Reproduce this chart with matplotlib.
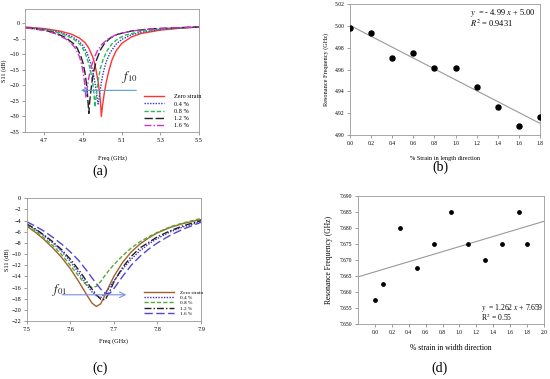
import matplotlib
matplotlib.use('Agg')
import matplotlib.pyplot as plt
import numpy as np

plt.rcParams['font.family'] = ['Liberation Serif', 'DejaVu Serif']
plt.rcParams['mathtext.fontset'] = 'stix'

# ---- (a) S11 vs freq, length strain ----
legend_a = ['Zero strain', '0.4 %', '0.8 %', '1.2 %', '1.6 %']
f_a0 = [4.60, 4.70, 4.78, 4.84, 4.88, 4.91, 4.93, 4.95, 4.96, 4.97, 4.98, 4.99, 4.995,
        5.00, 5.01, 5.02, 5.035, 5.05, 5.07, 5.10, 5.15, 5.20, 5.30, 5.40, 5.50]
s_a0 = [-1.2, -1.7, -2.5, -3.5, -4.7, -6.2, -8.0, -10.8, -12.8, -16.0, -19.5, -25.0, -30.0,
        -27.0, -22.5, -19.0, -15.0, -11.8, -9.0, -6.5, -4.4, -3.3, -2.2, -1.6, -1.2]
f_a1 = [4.60, 4.70, 4.78, 4.84, 4.88, 4.90, 4.92, 4.94, 4.95, 4.96, 4.97, 4.978, 4.985,
        4.995, 5.005, 5.02, 5.04, 5.07, 5.10, 5.15, 5.20, 5.30, 5.40, 5.50]
s_a1 = [-1.3, -1.9, -2.9, -4.2, -5.8, -7.2, -9.4, -13.0, -15.3, -18.5, -22.5, -26.0, -23.5,
        -19.0, -15.8, -12.4, -9.5, -6.8, -5.2, -3.7, -2.9, -2.0, -1.5, -1.2]
f_a2 = [4.60, 4.70, 4.78, 4.84, 4.87, 4.89, 4.91, 4.93, 4.94, 4.95, 4.957, 4.962, 4.968,
        4.978, 4.99, 5.005, 5.025, 5.05, 5.08, 5.12, 5.20, 5.30, 5.40, 5.50]
s_a2 = [-1.3, -2.0, -3.1, -4.7, -5.9, -7.2, -9.3, -13.0, -15.5, -19.0, -23.0, -27.0, -23.5,
        -18.5, -14.5, -11.5, -8.8, -6.6, -5.0, -3.8, -2.6, -1.9, -1.5, -1.2]
f_a3 = [4.60, 4.70, 4.76, 4.81, 4.85, 4.87, 4.89, 4.90, 4.91, 4.92, 4.925, 4.930, 4.935,
        4.945, 4.955, 4.97, 4.99, 5.01, 5.04, 5.08, 5.15, 5.25, 5.40, 5.50]
s_a3 = [-1.4, -2.2, -3.2, -4.6, -6.5, -8.0, -10.8, -12.8, -15.8, -20.5, -24.5, -29.0, -25.0,
        -19.5, -15.5, -11.8, -8.6, -6.6, -4.8, -3.5, -2.5, -1.8, -1.4, -1.2]
f_a4 = [4.60, 4.70, 4.76, 4.81, 4.84, 4.86, 4.88, 4.89, 4.90, 4.91, 4.915, 4.92, 4.93,
        4.94, 4.955, 4.975, 5.00, 5.03, 5.07, 5.15, 5.25, 5.40, 5.50]
s_a4 = [-1.4, -2.3, -3.4, -5.0, -6.5, -8.0, -10.5, -12.5, -15.5, -20.0, -24.0, -21.5, -17.5,
        -14.5, -11.5, -8.8, -6.6, -5.0, -3.7, -2.5, -1.8, -1.4, -1.2]

# ---- (b) resonance vs length strain ----
strain_b = [0.0, 0.2, 0.4, 0.6, 0.8, 1.0, 1.2, 1.4, 1.6, 1.8]
freq_b = [4.9977, 4.9934, 4.9708, 4.9754, 4.9617, 4.9617, 4.9440, 4.9257, 4.9080, 4.9168]

# ---- (c) S11 vs freq, width strain ----
f_c = [7.50, 7.52, 7.54, 7.56, 7.58, 7.60, 7.62, 7.63, 7.64, 7.65, 7.66, 7.67, 7.68, 7.69,
       7.70, 7.72, 7.74, 7.76, 7.78, 7.80, 7.83, 7.86, 7.90]
s_c0 = [-5.0, -6.1, -7.4, -8.9, -10.6, -12.6, -15.0, -16.3, -17.6, -18.8, -19.4, -18.9, -17.3,
        -15.6, -14.0, -11.5, -9.6, -8.2, -7.1, -6.2, -5.2, -4.5, -3.8]
s_c1 = [-4.6, -5.6, -6.7, -8.0, -9.5, -11.3, -13.4, -14.6, -15.8, -16.8, -17.5, -17.8, -17.0,
        -16.0, -14.8, -12.7, -10.9, -9.4, -8.2, -7.2, -6.0, -5.1, -4.2]
s_c2 = [-4.8, -5.9, -7.1, -8.5, -10.1, -12.0, -14.0, -15.0, -15.7, -16.0, -15.8, -14.9, -13.8,
        -12.8, -11.9, -10.3, -8.9, -7.8, -6.9, -6.1, -5.1, -4.4, -3.6]
s_c3 = [-4.6, -5.5, -6.6, -7.8, -9.2, -10.9, -12.9, -14.0, -15.2, -16.3, -17.3, -18.1, -18.2,
        -16.8, -15.0, -12.4, -10.4, -8.9, -7.9, -6.9, -5.8, -4.9, -4.0]
s_c4 = [-4.2, -5.0, -5.9, -7.0, -8.2, -9.6, -11.2, -12.2, -13.2, -14.3, -15.3, -16.3, -17.0,
        -17.1, -16.2, -14.0, -12.0, -10.4, -9.1, -8.0, -6.6, -5.5, -4.3]

# ---- (d) resonance vs width strain ----
strain_d = [0.0, 0.1, 0.3, 0.5, 0.7, 0.9, 1.1, 1.3, 1.5, 1.7, 1.8]
freq_d = [7.6575, 7.6625, 7.680, 7.6675, 7.675, 7.685, 7.675, 7.670, 7.675, 7.685, 7.675]

W, H = 550, 379
fig = plt.figure(figsize=(W / 100, H / 100), dpi=100)


def ax_at(l, t, r, b):
    return fig.add_axes([l / W, 1 - b / H, (r - l) / W, (b - t) / H])


def frame(ax, fs=4.5):
    for s in ax.spines.values():
        s.set_color('#999999')
        s.set_linewidth(0.6)
    ax.tick_params(labelsize=fs, length=2, width=0.5, color='#777777', pad=2)


lw = 1.0
# (a)
ax = ax_at(25, 9.3, 199, 132)
ax.plot(f_a0, s_a0, color='#ff3333', lw=lw, label=legend_a[0])
ax.plot(f_a1, s_a1, color='#3333cc', lw=lw, ls=(0, (1, 1)), label=legend_a[1])
ax.plot(f_a2, s_a2, color='#22bb55', lw=lw, ls=(0, (3, 1.5)), label=legend_a[2])
ax.plot(f_a3, s_a3, color='#222222', lw=lw, ls=(0, (6, 2)), label=legend_a[3])
ax.plot(f_a4, s_a4, color='#cc33cc', lw=lw, ls=(0, (5, 1.5, 1, 1.5)), label=legend_a[4])
ax.set_xlim(4.6, 5.5)
ax.set_ylim(-35, 4.5)
ax.set_xticks([4.7, 4.9, 5.1, 5.3, 5.5])
ax.set_yticks(range(-35, 1, 5))
frame(ax)
ax.set_xlabel('Freq (GHz)', fontsize=4.5)
ax.set_ylabel('S11 (dB)', fontsize=4.5)
ax.xaxis.set_label_coords(0.5, -0.187)
ax.yaxis.set_label_coords(-0.103, 0.5)
ax.annotate('', xy=(4.875, -21.6), xytext=(5.19, -21.6),
            arrowprops=dict(arrowstyle='->', color='#5b9bd5', lw=0.8))
ax.text(5.10, -17.3, r'$f_{10}$', fontsize=9, color='#222222', va='center')
ax.legend(loc='upper left', bbox_to_anchor=(0.665, 0.335), fontsize=4.5, frameon=False,
          handlelength=3.2, labelspacing=0.3, borderpad=0, handletextpad=1.6)

# (b)
ax = ax_at(350, 4, 540, 135)
ax.scatter(strain_b, freq_b, s=13, color='black', zorder=3)
kb = np.polyfit(strain_b, freq_b, 1)
ax.plot([0, 1.8], np.polyval(kb, [0, 1.8]), color='#999999', lw=0.8)
ax.set_xlim(0, 1.8)
ax.set_ylim(4.90, 5.02)
ax.set_xticks(np.arange(0, 1.81, 0.2))
ax.set_xticklabels(['%.1f' % v for v in np.arange(0, 1.81, 0.2)])
ax.set_yticks(np.arange(4.90, 5.021, 0.02))
ax.set_yticklabels(['%.2f' % v for v in np.arange(4.90, 5.021, 0.02)])
frame(ax, 4)
ax.set_xlabel('% Strain in length direction', fontsize=4.5)
ax.set_ylabel('Resonance Frequency (GHz)', fontsize=4.5)
ax.xaxis.set_label_coords(0.5, -0.16)
ax.yaxis.set_label_coords(-0.11, 0.5)
ax.text(1.14, 5.0115, r'$y$  = - 4.99 $x$ + 5.00', fontsize=6, va='center')
ax.text(1.14, 5.0024, r'$R^2$ = 0.9431', fontsize=6, va='center')

# (c)
ax = ax_at(26.7, 198.3, 201, 321)
ax.plot(f_c, s_c0, color='#a0622d', lw=lw, label=legend_a[0])
ax.plot(f_c, s_c1, color='#3333cc', lw=lw, ls=(0, (1, 1)), label=legend_a[1])
ax.plot(f_c, s_c2, color='#55aa33', lw=lw, ls=(0, (3, 1.5)), label=legend_a[2])
ax.plot(f_c, s_c3, color='#222222', lw=lw, ls=(0, (5, 1.5, 1, 1.5)), label=legend_a[3])
ax.plot(f_c, s_c4, color='#5544cc', lw=lw, ls=(0, (6, 2.5)), label=legend_a[4])
ax.set_xlim(7.5, 7.9)
ax.set_ylim(-22, 0)
ax.set_xticks([7.5, 7.6, 7.7, 7.8, 7.9])
ax.set_yticks(range(-22, 1, 2))
frame(ax)
ax.set_xlabel('Freq (GHz)', fontsize=4.5)
ax.set_ylabel('S11 (dB)', fontsize=4.5)
ax.xaxis.set_label_coords(0.5, -0.139)
ax.yaxis.set_label_coords(-0.096, 0.5)
ax.annotate('', xy=(7.735, -17.3), xytext=(7.575, -17.3),
            arrowprops=dict(arrowstyle='->', color='#7b8fe0', lw=0.8))
ax.text(7.558, -16.4, r'$f_{01}$', fontsize=9, color='#222222', va='center')
ax.legend(loc='upper left', bbox_to_anchor=(0.66, 0.275), fontsize=3.8, frameon=False,
          handlelength=5.7, labelspacing=0.12, borderpad=0, handletextpad=1.1)

# (d)
ax = ax_at(358, 196, 544, 324)
ax.scatter(strain_d, freq_d, s=6, color='black', zorder=3)
kd = np.polyfit(strain_d, freq_d, 1)
ax.plot([-0.2, 2.0], np.polyval(kd, [-0.2, 2.0]), color='#999999', lw=0.8)
ax.set_xlim(-0.2, 2.0)
ax.set_ylim(7.650, 7.690)
ax.set_xticks(np.arange(0, 2.01, 0.2))
ax.set_xticklabels(['%.1f' % v for v in np.arange(0, 2.01, 0.2)])
ax.set_yticks(np.arange(7.650, 7.6901, 0.005))
ax.set_yticklabels(['%.3f' % v for v in np.arange(7.650, 7.6901, 0.005)])
frame(ax, 4)
ax.set_xlabel('% strain in width direction', fontsize=5.5)
ax.set_ylabel('Resonance Frequency (GHz)', fontsize=5.5)
ax.xaxis.set_label_coords(0.5, -0.156)
ax.yaxis.set_label_coords(-0.134, 0.5)
ax.text(1.26, 7.6550, r'$y$  = 1.262 $x$ + 7.659', fontsize=5.5, va='center')
ax.text(1.26, 7.6520, r'R$^2$ = 0.55', fontsize=5.5, va='center')

# panel letters
for x, y, s in [(100, 171, '(a)'), (440, 167, '(b)'), (100, 368, '(c)'), (440, 368, '(d)')]:
    fig.text(x / W, 1 - y / H, s, fontsize=10, ha='center', va='center',
             family=['Liberation Serif'])

fig.savefig('out.png', dpi=100)
